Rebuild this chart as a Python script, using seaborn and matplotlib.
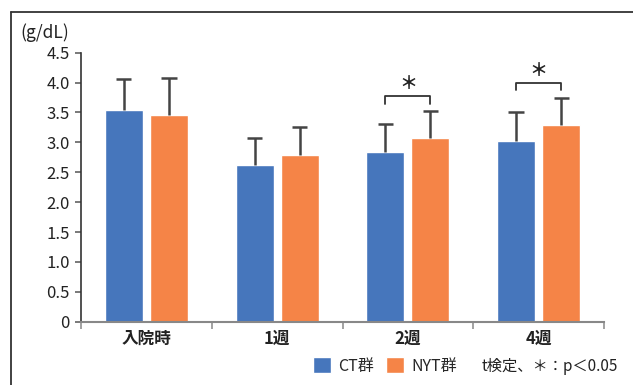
import matplotlib
matplotlib.use("Agg")
import matplotlib.pyplot as plt
from matplotlib.lines import Line2D
from matplotlib.ticker import FixedLocator
import seaborn as sns
import pandas as pd

# Serum albumin (g/dL), mean and SD per group
periods = ["入院時", "1週", "2週", "4週"]
groups = ["CT群", "NYT群"]
ct_mean = [3.54, 2.62, 2.84, 3.02]
ct_sd = [0.52, 0.46, 0.46, 0.48]
nyt_mean = [3.46, 2.79, 3.07, 3.29]
nyt_sd = [0.62, 0.47, 0.46, 0.46]
significant = ["2週", "4週"]
y_ticks = [0, 0.5, 1.0, 1.5, 2.0, 2.5, 3.0, 3.5, 4.0, 4.5]
y_tick_labels = ["0", "0.5", "1.0", "1.5", "2.0", "2.5", "3.0", "3.5", "4.0", "4.5"]

colors = {"CT群": "#4676BC", "NYT群": "#F58447"}

df = pd.DataFrame({
    "period": periods * 2,
    "group": [groups[0]] * 4 + [groups[1]] * 4,
    "mean": ct_mean + nyt_mean,
    "sd": ct_sd + nyt_sd,
})

sns.set_theme(style="white")
plt.rcParams["font.family"] = ["Noto Sans CJK JP", "DejaVu Sans"]

W, H = 633, 385
fig = plt.figure(figsize=(W / 100, H / 100), dpi=100)
ax = fig.add_axes([81 / W, 1 - 321.7 / H, (604 - 81) / W, (321.7 - 52.7) / H])

sns.barplot(data=df, x="period", y="mean", hue="group", order=periods,
            hue_order=groups, palette=colors, width=0.69, gap=0.155,
            saturation=1, errorbar=None, ax=ax)

ax.set_xlim(-0.5, 3.5)
ax.set_ylim(0, 4.5)

# upper SD whiskers with a cap at the top only
cap_half = 0.058
centers = {}
for g, cont in zip(groups, ax.containers):
    sub = df[df["group"] == g].set_index("period").loc[periods]
    xs = [p.get_x() + p.get_width() / 2 for p in cont.patches]
    ys = sub["mean"].to_numpy()
    tops = ys + sub["sd"].to_numpy()
    ax.vlines(xs, ys, tops, color="#444444", lw=1.8, zorder=1)
    ax.hlines(tops, [x - cap_half for x in xs], [x + cap_half for x in xs],
              color="#444444", lw=1.8, zorder=1)
    centers[g] = dict(zip(periods, zip(xs, tops)))

# significance brackets
for per in significant:
    x1, top1 = centers["CT群"][per]
    x2, top2 = centers["NYT群"][per]
    top = max(top1, top2)
    yb = top + 0.24
    ax.plot([x1, x1, x2, x2], [yb - 0.12, yb, yb, yb - 0.12],
            color="#333333", lw=1.3, clip_on=False)
    ax.text((x1 + x2) / 2, yb + 0.06, "＊", ha="center", va="bottom",
            fontsize=13, fontweight="bold", color="#222222")

# axes styling
for s in ["top", "right"]:
    ax.spines[s].set_visible(False)
ax.spines["left"].set_color("#333333")
ax.spines["left"].set_linewidth(1.2)
ax.spines["bottom"].set_color("#888888")
ax.spines["bottom"].set_linewidth(1.5)

ax.set_yticks(y_ticks)
ax.set_yticklabels(y_tick_labels, fontsize=12, color="#222222")
ax.tick_params(axis="y", which="major", direction="out", length=4.5,
               width=1.1, color="#555555", pad=3.5, left=True)

ax.xaxis.set_minor_locator(FixedLocator([-0.5, 0.5, 1.5, 2.5, 3.5]))
ax.tick_params(axis="x", which="major", length=0, pad=6, labelsize=12)
ax.tick_params(axis="x", which="minor", direction="out", length=5,
               width=1.1, color="#888888", bottom=True)
for lab in ax.get_xticklabels():
    lab.set_fontweight("bold")
    lab.set_color("#222222")
ax.set_xlabel("")
ax.set_ylabel("")

fig.text(20 / W, 1 - 33 / H, "(g/dL)", fontsize=12.5, va="center",
         ha="left", color="#222222")

# legend and test note along the bottom
sns.move_legend(ax, loc="center left", bbox_to_anchor=(313 / W, 1 - 366 / H),
                bbox_transform=fig.transFigure, ncol=2, title=None,
                frameon=False, fontsize=11.5, handlelength=1.1,
                handleheight=1.1, handletextpad=0.45, columnspacing=0.8,
                borderpad=0, borderaxespad=0)
fig.text(482 / W, 1 - 366 / H, "t検定、＊：p＜0.05", fontsize=11,
         va="center", ha="left", color="#222222")

# outer panel frame (left and top edges)
frame_kw = dict(transform=fig.transFigure, color="#333333", lw=1.3)
fig.add_artist(Line2D([11 / W, 11 / W], [0, 1 - 12 / H], **frame_kw))
fig.add_artist(Line2D([11 / W, 1], [1 - 12 / H, 1 - 12 / H], **frame_kw))

fig.savefig("out.png", dpi=100)
